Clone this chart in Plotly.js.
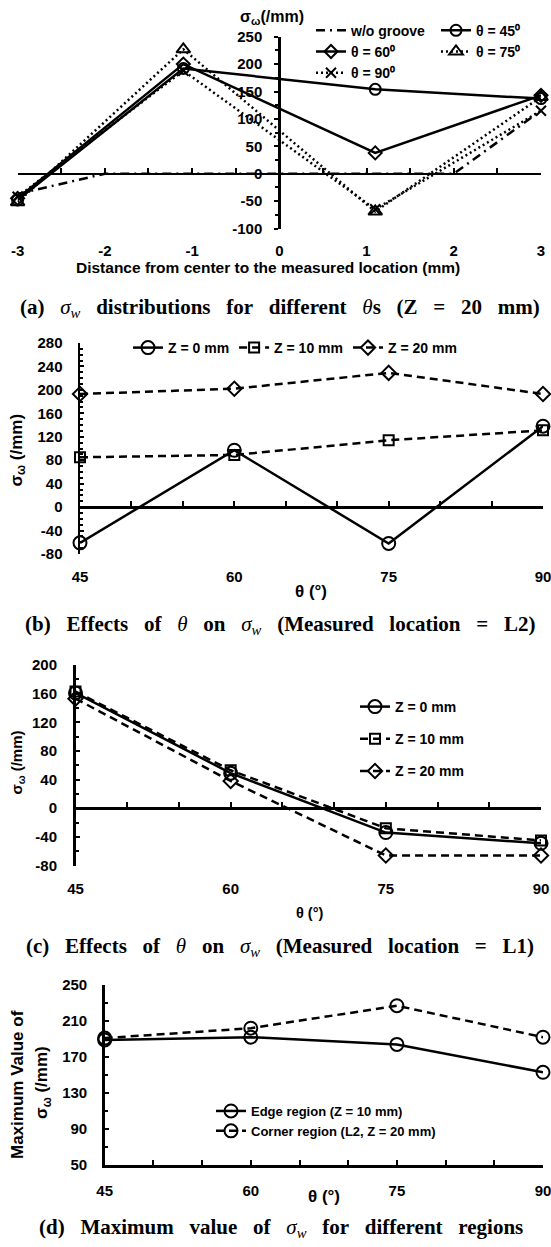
<!DOCTYPE html>
<html>
<head>
<meta charset="utf-8">
<script src="https://cdn.plot.ly/plotly-3.0.1.min.js"></script>
<style>html,body{margin:0;padding:0;background:#fff;}#chart{width:551px;height:1247px;}</style>
</head>
<body>
<div id="chart"></div>
<script>
// ---------- DATA ----------
// (a) sigma_w distributions (Z = 20 mm)
const distA = [-3, -1.1, 1.1, 3];
const distNoGroove = [-3, -2, -1, 0, 1, 2, 3];
const noGroove = [-37, 0, 0, 0, 0, 0, 115];
const theta45 = [-48, 192, 154, 137];
const theta60 = [-45, 200, 38, 143];
const theta75 = [-52, 227, -69, 140];
const theta90 = [-42, 188, -65, 115];
const distTicks = [-3, -2, -1, 0, 1, 2, 3];
const yTicksA = [-100, -50, 0, 50, 100, 150, 200, 250];

// (b), (c), (d) theta values
const theta = [45, 60, 75, 90];
const yTicksB = [-80, -40, 0, 40, 80, 120, 160, 200, 240, 280];
const yTicksC = [-80, -40, 0, 40, 80, 120, 160, 200];
const yTicksD = [50, 90, 130, 170, 210, 250];
// (b) measured location L2
const L2_z0 = [-61, 97, -62, 138];
const L2_z10 = [85, 89, 114, 131];
const L2_z20 = [193, 202, 229, 193];
// (c) measured location L1
const L1_z0 = [161, 49, -34, -49];
const L1_z10 = [163, 53, -28, -45];
const L1_z20 = [153, 38, -66, -66];
// (d) maximum values
const edgeMax = [189, 192, 184, 153];
const cornerMax = [191, 202, 227, 192];

// ---------- STYLE ----------
const W = 551, H = 1247;
const FONT = "'Liberation Sans Narrow', 'Liberation Sans', Arial, sans-serif";
const SERIF = "'Liberation Serif', 'Times New Roman', serif";
const px = v => v / W;
const py = v => 1 - v / H;
const bold = (size) => ({family: FONT, size: size, color: '#000', weight: 'bold'});
const labels = arr => arr.map(v => String(v));

function dom(topPx, botPx) { return [py(botPx), py(topPx)]; }
function zeroPos(d, r) { return d[0] + (0 - r[0]) / (r[1] - r[0]) * (d[1] - d[0]); }

const dxA = [px(17.6), px(541)], dA = dom(36.7, 228.5), rA = [-100, 250], rxA = [-3, 3];
const dxB = [px(80), px(543)], dB = dom(343, 554), rB = [-80, 280];
const dxC = [px(75.5), px(541)], dC = dom(665, 865.5), rC = [-80, 200];
const dxD = [px(104.7), px(543)], dD = dom(985, 1165), rD = [50, 250];

const DASH = '8px,5px', DOT = '2px,3px', DASHDOT = '9px,5px,2px,5px';

function line(x, y, name, dash, sym, xa, ya, leg, msize, grp) {
  const t = {
    x: x, y: y, name: name, type: 'scatter', mode: sym ? 'lines+markers' : 'lines',
    xaxis: xa, yaxis: ya, legend: leg, cliponaxis: false,
    line: {color: '#000', width: 2.5, dash: dash}
  };
  if (grp) t.legendgroup = grp;
  if (sym) t.marker = {symbol: sym, size: msize || 10, color: '#000', line: {color: '#000', width: 2}};
  return t;
}

const traces = [
  line(distNoGroove, noGroove, 'w/o groove', DASHDOT, null, 'x', 'y', 'legend'),
  line(distA, theta45, 'θ = 45⁰', 'solid', 'circle-open', 'x', 'y', 'legend5', 11),
  line(distA, theta60, 'θ = 60⁰', 'solid', 'diamond-open', 'x', 'y', 'legend', 10),
  line(distA, theta75, 'θ = 75⁰', DOT, 'triangle-up-open', 'x', 'y', 'legend5', 12),
  line(distA, theta90, 'θ = 90⁰', DOT, 'x-thin-open', 'x', 'y', 'legend', 10),

  line(theta, L2_z0, 'Z = 0 mm', 'solid', 'circle-open', 'x2', 'y2', 'legend2', 13),
  line(theta, L2_z10, 'Z = 10 mm', DASH, 'square-open', 'x2', 'y2', 'legend2', 10),
  line(theta, L2_z20, 'Z = 20 mm', DASH, 'diamond-open', 'x2', 'y2', 'legend2', 11),

  line(theta, L1_z0, 'Z = 0 mm', 'solid', 'circle-open', 'x3', 'y3', 'legend3', 13, 'c0'),
  line(theta, L1_z10, 'Z = 10 mm', DASH, 'square-open', 'x3', 'y3', 'legend3', 10, 'c1'),
  line(theta, L1_z20, 'Z = 20 mm', DASH, 'diamond-open', 'x3', 'y3', 'legend3', 11, 'c2'),

  line(theta, edgeMax, 'Edge region (Z = 10 mm)', 'solid', 'circle-open', 'x4', 'y4', 'legend4', 13, 'd0'),
  line(theta, cornerMax, 'Corner region (L2, Z = 20 mm)', DASH, 'circle-open', 'x4', 'y4', 'legend4', 13, 'd1'),

  // empty helpers so the zero-line axes are drawn
  {x: [], y: [], xaxis: 'x5', yaxis: 'y', showlegend: false, type: 'scatter', mode: 'lines'},
  {x: [], y: [], xaxis: 'x6', yaxis: 'y2', showlegend: false, type: 'scatter', mode: 'lines'},
  {x: [], y: [], xaxis: 'x7', yaxis: 'y3', showlegend: false, type: 'scatter', mode: 'lines'}
];

const baseX = {showgrid: false, zeroline: false, showline: false, ticks: '', tickfont: bold(15),
  ticklabeloverflow: 'allow', fixedrange: true};
const baseY = {showgrid: false, zeroline: false, showline: true, linewidth: 2.5, linecolor: '#000',
  tickfont: bold(15), tickwidth: 2, tickcolor: '#000', ticklen: 4, ticklabeloverflow: 'allow', fixedrange: true};
const minorT = (dt, t0, dir) => ({dtick: dt, tick0: t0, ticks: dir, ticklen: 3, tickwidth: 2, tickcolor: '#000'});
const zeroX = (ov, r, d, dt, xr) => ({overlaying: ov, anchor: 'free', position: zeroPos(d, r), range: xr, tick0: xr[0],
  showgrid: false, zeroline: false, showline: true, linewidth: 2.5, linecolor: '#000', ticks: 'inside', ticklen: 5,
  tickwidth: 2, tickcolor: '#000', dtick: dt, showticklabels: false, fixedrange: true});

const cap = {family: SERIF, size: 21, color: '#000', weight: 'bold'};
const G = '\u00a0\u00a0\u00a0';
const it = s => '<span style="font-weight:normal"><i>' + s + '</i></span>';
const ann = (text, x, y, font, angle) => ({text: text, x: px(x), y: py(y), xref: 'paper', yref: 'paper',
  xanchor: 'center', yanchor: 'middle', showarrow: false, font: font, textangle: angle || 0});

const layout = {
  width: W, height: H, margin: {l: 0, r: 0, t: 0, b: 0},
  paper_bgcolor: '#fff', plot_bgcolor: 'rgba(0,0,0,0)', showlegend: true,
  font: {family: FONT, color: '#000'},
  // (a)
  xaxis: Object.assign({}, baseX, {domain: dxA, range: rxA, anchor: 'y', tickvals: distTicks, ticktext: labels(distTicks),
    ticklabelstandoff: 11}),
  yaxis: Object.assign({}, baseY, {domain: dA, range: rA, anchor: 'free',
    position: dxA[0] + (0 - rxA[0]) / (rxA[1] - rxA[0]) * (dxA[1] - dxA[0]), side: 'left',
    tickvals: yTicksA, ticktext: labels(yTicksA), ticks: 'outside', ticklabelstandoff: 9,
    minor: minorT(25, -100, 'outside')}),
  xaxis5: zeroX('x', rA, dA, 0.5, rxA),
  // (b)
  xaxis2: Object.assign({}, baseX, {domain: dxB, range: [45, 90], anchor: 'y2', tickvals: theta, ticktext: labels(theta),
    ticklabelstandoff: 12}),
  yaxis2: Object.assign({}, baseY, {domain: dB, range: rB, anchor: 'x2', tickvals: yTicksB, ticktext: labels(yTicksB),
    ticks: 'inside', ticklabelstandoff: 12, minor: minorT(10, -80, 'inside')}),
  xaxis6: zeroX('x2', rB, dB, 5, [45, 90]),
  // (c)
  xaxis3: Object.assign({}, baseX, {domain: dxC, range: [45, 90], anchor: 'y3', tickvals: theta, ticktext: labels(theta),
    ticklabelstandoff: 12}),
  yaxis3: Object.assign({}, baseY, {domain: dC, range: rC, anchor: 'x3', tickvals: yTicksC, ticktext: labels(yTicksC),
    ticks: 'inside', ticklabelstandoff: 13, minor: minorT(20, -80, 'inside')}),
  xaxis7: zeroX('x3', rC, dC, 5, [45, 90]),
  // (d)
  xaxis4: Object.assign({}, baseX, {domain: dxD, range: [45, 90], anchor: 'y4', tickvals: theta, ticktext: labels(theta),
    showline: true, linewidth: 2.5, linecolor: '#000', ticks: 'inside', ticklen: 5, tickwidth: 2, tickcolor: '#000',
    ticklabelstandoff: 10, minor: {dtick: 5, tick0: 45, ticks: 'inside', ticklen: 5, tickwidth: 2, tickcolor: '#000'}}),
  yaxis4: Object.assign({}, baseY, {domain: dD, range: rD, anchor: 'x4', tickvals: yTicksD, ticktext: labels(yTicksD),
    ticks: 'inside', ticklabelstandoff: 12, minor: minorT(20, 50, 'inside')}),

  legend: {x: px(311), y: py(14.7), xanchor: 'left', yanchor: 'top', orientation: 'v',
    font: bold(14), bgcolor: 'rgba(0,0,0,0)', itemwidth: 30},
  legend5: {x: px(436), y: py(14.7), xanchor: 'left', yanchor: 'top', orientation: 'v',
    font: bold(14), bgcolor: 'rgba(0,0,0,0)', itemwidth: 30},
  legend2: {x: px(128), y: py(332), xanchor: 'left', yanchor: 'top', orientation: 'h',
    font: bold(14), bgcolor: 'rgba(0,0,0,0)', itemwidth: 30},
  legend3: {x: px(355), y: py(691), xanchor: 'left', yanchor: 'top', orientation: 'v',
    font: bold(14), bgcolor: 'rgba(0,0,0,0)', itemwidth: 30, tracegroupgap: 11},
  legend4: {x: px(211), y: py(1096), xanchor: 'left', yanchor: 'top', orientation: 'v',
    font: bold(13), bgcolor: 'rgba(0,0,0,0)', itemwidth: 30, tracegroupgap: 0},

  annotations: [
    // axis titles
    ann('σ<sub>ω</sub>(/mm)', 272, 18, bold(16)),
    ann('Distance from center to the measured location (mm)', 268, 267, bold(15.5)),
    ann('σ<sub>ω</sub> (/mm)', 17.6, 450, bold(17), -90),
    ann('θ (°)', 311, 591, bold(17)),
    ann('σ<sub>ω</sub> (/mm)', 17.6, 763, bold(15), -90),
    ann('θ (°)', 309, 913, bold(14.5)),
    ann('Maximum Value of', 17, 1085, bold(17), -90),
    ann('σ<sub>ω</sub> (/mm)', 43, 1083, bold(17), -90),
    ann('θ (°)', 324, 1196, bold(17)),
    // captions
    ann('(a)' + G + it('σ<sub>w</sub>') + G + 'distributions' + G + 'for' + G + 'different' + G + it('θ') + 's' + G + '(Z' + G + '=' + G + '20' + G + 'mm)', 280, 308, cap),
    ann('(b)' + G + 'Effects' + G + 'of' + G + it('θ') + G + 'on' + G + it('σ<sub>w</sub>') + G + '(Measured' + G + 'location' + G + '=' + G + 'L2)', 280, 625, cap),
    ann('(c)' + G + 'Effects' + G + 'of' + G + it('θ') + G + 'on' + G + it('σ<sub>w</sub>') + G + '(Measured' + G + 'location' + G + '=' + G + 'L1)', 280, 947, cap),
    ann('(d)' + G + 'Maximum' + G + 'value' + G + 'of' + G + it('σ<sub>w</sub>') + G + 'for' + G + 'different' + G + 'regions', 281, 1228, cap)
  ]
};

Plotly.newPlot('chart', traces, layout, {staticPlot: true, displayModeBar: false});
</script>
</body>
</html>
